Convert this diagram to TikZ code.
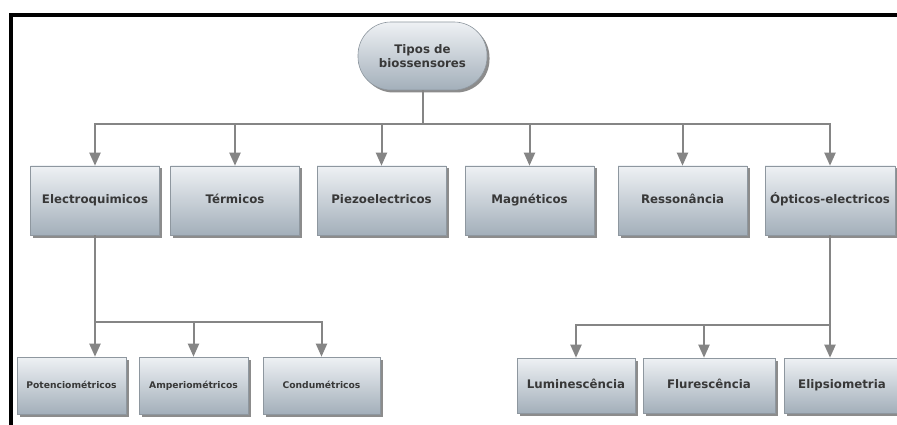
\documentclass[tikz,border=0pt]{standalone}
\usepackage{fontspec}
\setmainfont{DejaVu Sans}
\usepackage{xcolor}
\usepackage{tikz}
\usetikzlibrary{arrows.meta,positioning,shadows}

\definecolor{boxtop}{HTML}{EEF1F4}
\definecolor{boxbot}{HTML}{A3AFBA}
\definecolor{boxline}{HTML}{8E979F}
\definecolor{linkgray}{HTML}{858585}
\definecolor{textgray}{HTML}{383838}

\begin{document}
\begin{tikzpicture}[
  x=1pt, y=-1pt,
  box/.style={draw=boxline, line width=0.6pt, top color=boxtop, bottom color=boxbot, align=center, inner sep=2pt,
    text=textgray, font=\fontsize{11.8}{14}\selectfont\bfseries,
    drop shadow={shadow xshift=2.5pt, shadow yshift=-2.5pt, fill=black, opacity=0.45}},
  top/.style={box, minimum width=129pt, minimum height=69pt, text height=1.5ex, text depth=.4ex},
  leaf/.style={box, minimum height=57pt, font=\fontsize{9.2}{11}\selectfont\bfseries, text height=1.5ex, text depth=.4ex},
  root/.style={box, rounded corners=33pt, minimum width=129pt, minimum height=68pt},
  trunk/.style={draw=linkgray, line width=2pt},
  branch/.style={trunk, -{Triangle[width=11pt,length=13pt]}}
]
\fill[white] (0,0) rectangle (897,425);
\useasboundingbox (0,0) rectangle (897,425);
\draw[line width=4pt] (11,425) -- (11,15.3) -- (897,15.3);

\node[root] (tb) at (422.5,56) {Tipos de\\biossensores};

\node[top] (eq) at (95,200.5) {Electroquimicos};
\node[top] (te) at (235,200.5) {Térmicos};
\node[top] (pz) at (381.5,200.5) {Piezoelectricos};
\node[top] (mg) at (529.5,200.5) {Magnéticos};
\node[top] (rs) at (682.5,200.5) {Ressonância};
\node[top, minimum width=130pt] (op) at (830,200.5) {Ópticos-electricos};

\node[leaf, minimum width=109pt] (pt) at (71.5,385.5) {Potenciométricos};
\node[leaf, minimum width=109pt] (am) at (193.5,385.5) {Amperiométricos};
\node[leaf, minimum width=117pt] (cd) at (321.5,385.5) {Condumétricos};

\node[top, minimum width=118pt, minimum height=55pt] (lu) at (576,385.5) {Luminescência};
\node[top, minimum width=132pt, minimum height=55pt] (fl) at (709,385.5) {Flurescência};
\node[top, minimum width=116pt, minimum height=55pt] (el) at (842,385.5) {Elipsiometria};

% connectors
\coordinate (bus) at (422.5,124);
\coordinate (lbus) at (95,322);
\coordinate (rbus) at (830,325);

\draw[trunk] (tb) -- (bus);
\foreach \n in {eq,te,pz,mg,rs,op}
  \draw[branch] (bus) -| (\n.north);

\draw[trunk] (eq) -- (lbus);
\draw[branch] (lbus) -- (pt.north -| eq);
\draw[branch] (lbus) -| (am.north);
\draw[branch] (lbus) -| (cd.north);

\draw[trunk] (op) -- (rbus);
\draw[branch] (rbus) -| ([xshift=-5pt]fl.north);
\draw[branch] (rbus) -| (lu.north);
\draw[branch] (rbus) -- (el.north -| op);
\end{tikzpicture}
\end{document}
